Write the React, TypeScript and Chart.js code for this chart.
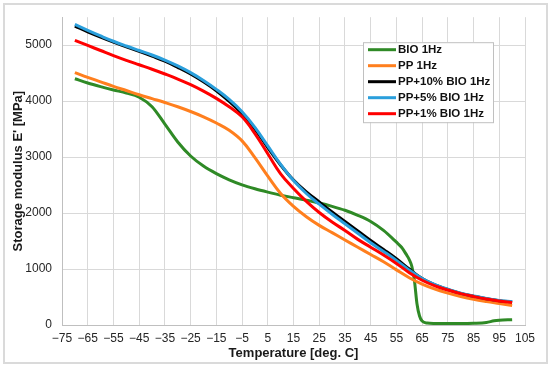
import React, { useEffect, useRef } from 'react';
import { Chart, registerables } from 'chart.js';

Chart.register(...registerables);

// ---- data ----
const temps = [-70, -65, -60, -55, -50, -45, -40, -35, -30, -25, -20, -15, -10, -5, 0, 5, 10, 15, 20, 25, 30, 35, 40, 45, 50, 55, 60, 65, 70, 75, 80, 85, 90, 95, 100];

const bioTemps = [-70, -65, -60, -55, -50, -45, -40, -35, -30, -25, -20, -15, -10, -5, 0, 5, 10, 15, 20, 25, 30, 35, 40, 45, 50, 55, 57, 59, 60, 61, 62, 63, 64, 65, 67, 70, 75, 80, 85, 90, 93, 95, 100];
const bio = [4400, 4325, 4260, 4200, 4145, 4070, 3900, 3590, 3270, 3020, 2840, 2705, 2595, 2505, 2435, 2375, 2320, 2275, 2230, 2180, 2120, 2050, 1960, 1850, 1690, 1480, 1390, 1250, 1170, 1050, 800, 380, 160, 70, 35, 28, 25, 25, 30, 45, 75, 85, 95];

const pp = [4510, 4425, 4345, 4265, 4190, 4115, 4045, 3975, 3900, 3815, 3720, 3610, 3480, 3290, 2990, 2660, 2350, 2120, 1935, 1780, 1650, 1520, 1390, 1260, 1130, 985, 845, 730, 640, 570, 510, 460, 420, 385, 350];
const pp10 = [5340, 5240, 5145, 5055, 4970, 4890, 4805, 4715, 4605, 4485, 4345, 4185, 3995, 3775, 3500, 3170, 2860, 2590, 2380, 2200, 2020, 1850, 1680, 1510, 1350, 1185, 1000, 830, 715, 635, 565, 515, 470, 435, 410];
const pp5 = [5370, 5265, 5165, 5070, 4985, 4905, 4825, 4735, 4630, 4510, 4370, 4210, 4030, 3810, 3530, 3200, 2870, 2580, 2350, 2160, 1980, 1810, 1640, 1470, 1315, 1155, 980, 830, 720, 640, 570, 520, 475, 440, 420];
const pp1 = [5085, 4995, 4905, 4815, 4730, 4650, 4570, 4485, 4395, 4295, 4180, 4050, 3900, 3720, 3420, 3060, 2700, 2440, 2210, 2010, 1840, 1690, 1530, 1390, 1250, 1100, 935, 800, 700, 625, 560, 510, 465, 430, 400];

const seriesLabels = ['BIO 1Hz', 'PP 1Hz', 'PP+10% BIO 1Hz', 'PP+5% BIO 1Hz', 'PP+1% BIO 1Hz'];
const seriesColors = ['#2f8a26', '#ff7f1e', '#000000', '#2a9fdc', '#ff0000'];

const xTicks = [-75, -65, -55, -45, -35, -25, -15, -5, 5, 15, 25, 35, 45, 55, 65, 75, 85, 95, 105];
const yTicks = [0, 1000, 2000, 3000, 4000, 5000];

const FONT = '"Liberation Sans", Arial, sans-serif';

function fmt(v: number): string {
  return v < 0 ? '\u2212' + Math.abs(v) : String(v);
}

export default function App() {
  const ref = useRef<HTMLCanvasElement>(null);

  useEffect(() => {
    if (!ref.current) return;
    Chart.defaults.font.family = FONT;

    const legendPlugin = {
      id: 'boxLegend',
      afterDraw(chart: any) {
        const { ctx, chartArea } = chart;
        const x0 = chartArea.left + 301;
        const y0 = chartArea.top + 25;
        const w = 130;
        const h = 80;
        ctx.save();
        ctx.fillStyle = '#ffffff';
        ctx.fillRect(x0, y0, w, h);
        ctx.strokeStyle = '#c0c0c0';
        ctx.lineWidth = 1;
        ctx.strokeRect(x0 + 0.5, y0 + 0.5, w, h);
        chart.data.datasets.forEach((ds: any, i: number) => {
          const y = y0 + 7.5 + i * 16;
          ctx.strokeStyle = ds.borderColor;
          ctx.lineWidth = 3;
          ctx.beginPath();
          ctx.moveTo(x0 + 5, y);
          ctx.lineTo(x0 + 33, y);
          ctx.stroke();
          ctx.fillStyle = '#111111';
          ctx.font = 'bold 11.5px ' + FONT;
          ctx.textBaseline = 'middle';
          ctx.textAlign = 'left';
          ctx.fillText(ds.label, x0 + 35, y + 0.5);
        });
        ctx.restore();
      },
    };

    const mk = (xs: number[], ys: number[]) => xs.map((x, i) => ({ x, y: ys[i] }));
    const dataArrays = [mk(bioTemps, bio), mk(temps, pp), mk(temps, pp10), mk(temps, pp5), mk(temps, pp1)];
    const orders = [5, 4, 3, 2, 1];

    const chart = new Chart(ref.current, {
      type: 'line',
      data: {
        datasets: dataArrays.map((d, i) => ({
          label: seriesLabels[i],
          data: d,
          borderColor: seriesColors[i],
          backgroundColor: seriesColors[i],
          borderWidth: 3,
          pointRadius: 0,
          fill: false,
          cubicInterpolationMode: i === 0 ? ('monotone' as const) : ('default' as const),
          tension: 0.4,
          order: orders[i],
        })),
      },
      options: {
        animation: false,
        responsive: false,
        events: [],
        layout: { padding: { left: 0, right: 25, top: 17, bottom: 0 } },
        plugins: {
          legend: { display: false },
          tooltip: { enabled: false },
        },
        scales: {
          x: {
            type: 'linear',
            min: -75,
            max: 105,
            afterBuildTicks: (s: any) => {
              s.ticks = xTicks.map((v) => ({ value: v }));
            },
            afterFit: (s: any) => {
              s.height = 41;
            },
            grid: { color: '#d9d9d9', drawTicks: false, lineWidth: 1 },
            border: { color: '#bfbfbf', width: 1 },
            ticks: {
              padding: 6,
              color: '#262626',
              font: { size: 12 },
              maxRotation: 0,
              autoSkip: false,
              callback: (v: any) => fmt(Number(v)),
            },
            title: {
              display: true,
              text: 'Temperature [deg. C]',
              color: '#1a1a1a',
              font: { size: 13, weight: 'bold' },
              padding: { top: 0, bottom: 5 },
            },
          },
          y: {
            type: 'linear',
            min: 0,
            max: 5500,
            afterBuildTicks: (s: any) => {
              s.ticks = yTicks.map((v) => ({ value: v }));
            },
            afterFit: (s: any) => {
              s.width = 62;
            },
            grid: { color: '#d9d9d9', drawTicks: false, lineWidth: 1 },
            border: { color: '#bfbfbf', width: 1 },
            ticks: {
              padding: 10,
              color: '#262626',
              font: { size: 12 },
              callback: (v: any) => String(v),
            },
            title: {
              display: true,
              text: "Storage modulus E' [MPa]",
              color: '#1a1a1a',
              font: { size: 13, weight: 'bold' },
              padding: { top: 11, bottom: 0 },
            },
          },
        },
      },
      plugins: [legendPlugin],
    } as any);

    return () => chart.destroy();
  }, []);

  return (
    <div style={{ position: 'absolute', left: 0, top: 0, width: 550, height: 366, background: '#ffffff' }}>
      <div
        style={{
          position: 'absolute',
          left: 3,
          top: 3,
          width: 541,
          height: 357,
          border: '2px solid #dadada',
          boxSizing: 'content-box',
        }}
      />
      <canvas ref={ref} width={550} height={366} style={{ position: 'absolute', left: 0, top: 0 }} />
    </div>
  );
}
